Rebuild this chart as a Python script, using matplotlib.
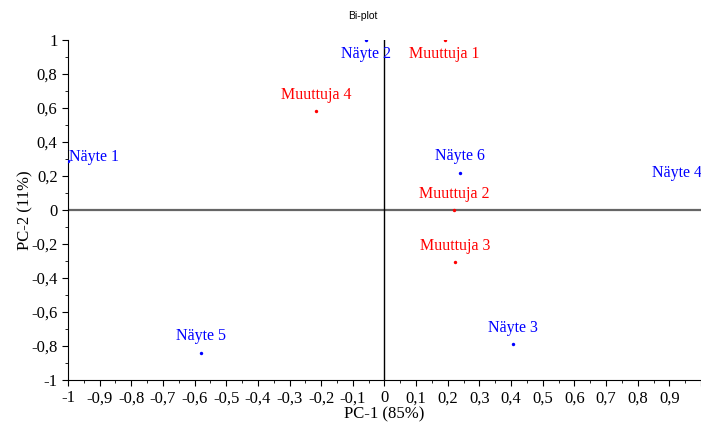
import matplotlib.pyplot as plt
from matplotlib.ticker import MultipleLocator, FuncFormatter

# scores (samples) and loadings (variables)
samples = ['Näyte 1', 'Näyte 2', 'Näyte 3', 'Näyte 4', 'Näyte 5', 'Näyte 6']
sample_pc1 = [-1.0, -0.057, 0.407, 1.02, -0.58, 0.237]
sample_pc2 = [0.29, 1.0, -0.79, 0.22, -0.84, 0.22]
sample_pos = ['right', 'below', 'above', 'left', 'above', 'above']

variables = ['Muuttuja 1', 'Muuttuja 2', 'Muuttuja 3', 'Muuttuja 4']
var_pc1 = [0.19, 0.22, 0.224, -0.215]
var_pc2 = [1.0, 0.0, -0.305, 0.58]
var_pos = ['below', 'above', 'above', 'above']

serif = 'Liberation Serif'

fig = plt.figure(figsize=(7.01, 4.23), dpi=100)
ax = fig.add_axes([0.097, 0.1017, 0.903, 0.8037])

ax.axhline(0, color='#666666', lw=1.6, zorder=1)
ax.axvline(0, color='black', lw=1.0, zorder=1)

offsets = {'above': ((0, 6), 'center', 'bottom'),
           'below': ((0, -4), 'center', 'top'),
           'right': ((1, 3), 'left', 'center'),
           'left': ((-4, 0), 'right', 'center')}


def draw(names, xs, ys, pos, color):
    ax.scatter(xs, ys, s=6, color=color, zorder=3, linewidths=0)
    for n, x, y, p in zip(names, xs, ys, pos):
        off, ha, va = offsets[p]
        ax.annotate(n, (x, y), xytext=off, textcoords='offset points',
                    ha=ha, va=va, color=color, fontsize=11.5, family=serif,
                    annotation_clip=False)


draw(samples, sample_pc1, sample_pc2, sample_pos, '#0000ff')
draw(variables, var_pc1, var_pc2, var_pos, '#ff0000')

ax.set_xlim(-1, 1)
ax.set_ylim(-1, 1)
ax.spines['top'].set_visible(False)
ax.spines['right'].set_visible(False)

ax.xaxis.set_major_locator(MultipleLocator(0.1))
ax.xaxis.set_minor_locator(MultipleLocator(0.05))
ax.yaxis.set_major_locator(MultipleLocator(0.2))
ax.yaxis.set_minor_locator(MultipleLocator(0.1))


def fmt(v, _):
    if abs(v) < 1e-9:
        return '0'
    if v > 0.999:
        return '1' if abs(v - 1) < 1e-9 else ''
    s = ('%.1f' % v).rstrip('0').rstrip('.')
    return s.replace('.', ',')


def fmt_x(v, _):
    if v > 0.95:
        return ''
    return fmt(v, _)


ax.xaxis.set_major_formatter(FuncFormatter(fmt_x))
ax.yaxis.set_major_formatter(FuncFormatter(fmt))
ax.tick_params(which='major', length=4, direction='out', labelsize=12)
ax.tick_params(which='minor', length=2, direction='out')
for lab in ax.get_xticklabels() + ax.get_yticklabels():
    lab.set_family(serif)

ax.set_xlabel('PC-1 (85%)', family=serif, fontsize=12, labelpad=0)
ax.set_ylabel('PC-2 (11%)', family=serif, fontsize=12, va='center')
ax.yaxis.set_label_coords(-0.067, 0.5)
fig.text(0.518, 0.962, 'Bi-plot', ha='center', va='center', fontsize=7.5,
         family='Liberation Sans')

fig.savefig('out.png', dpi=100)
